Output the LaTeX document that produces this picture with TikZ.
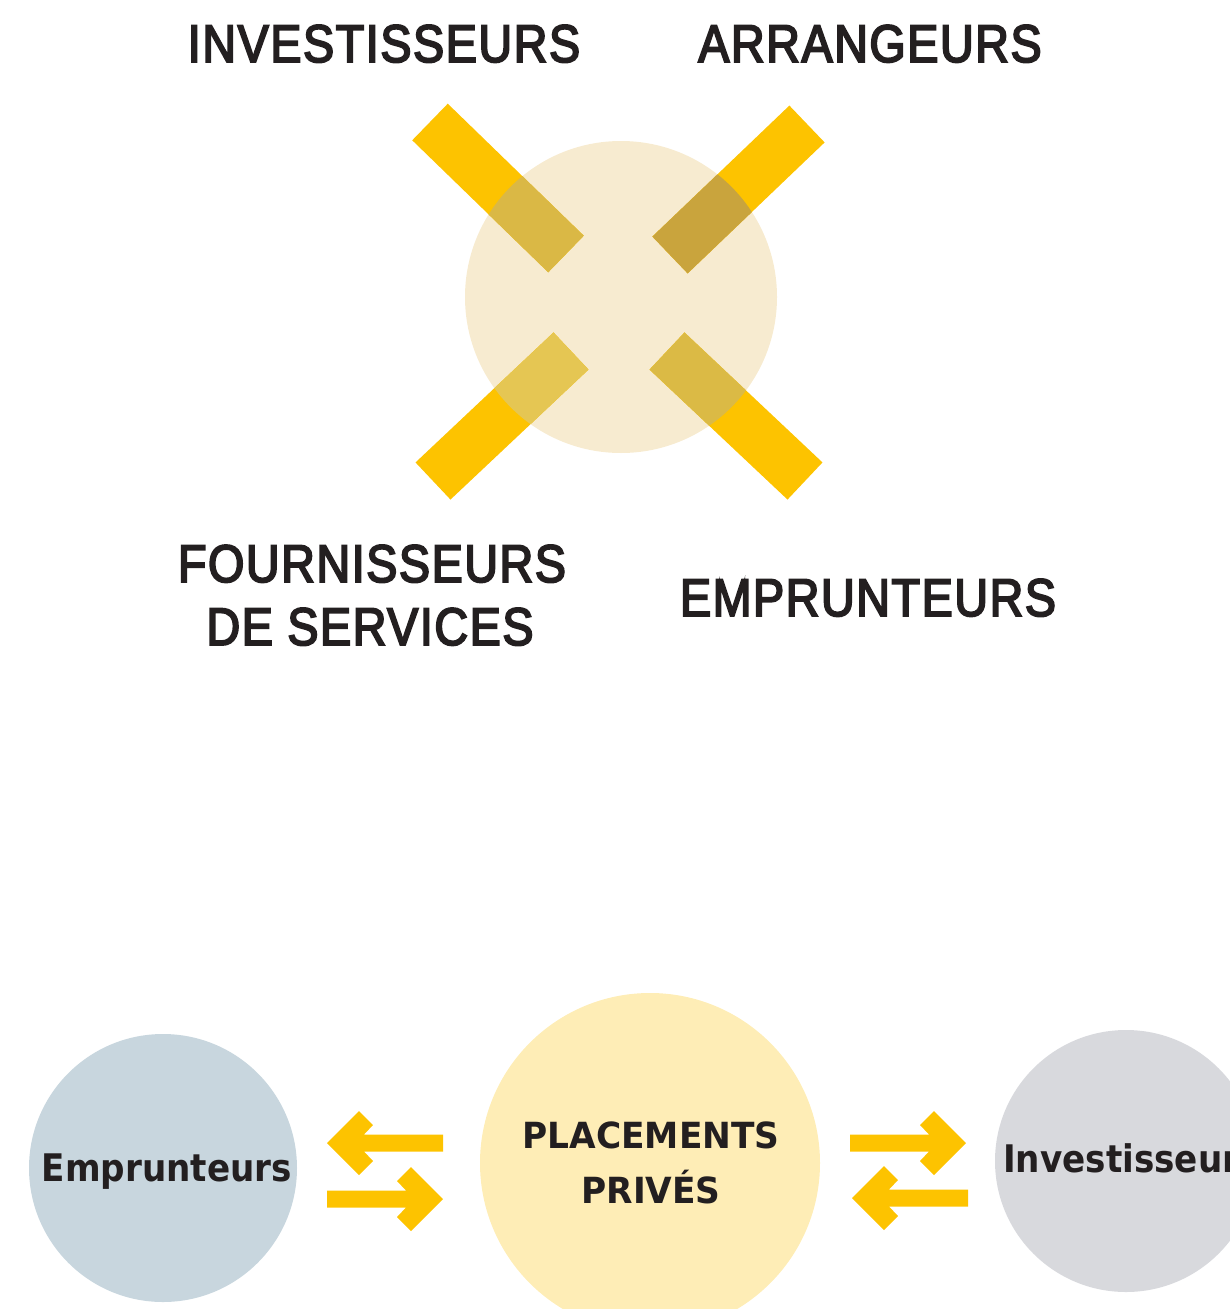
\documentclass[tikz,border=0pt]{standalone}
\usepackage{fontspec}
\newfontfamily\capsfont[FakeStretch=0.88, FakeBold=3.5, LetterSpace=3]{Liberation Sans}
\newfontfamily\bubblefont[FakeStretch=0.9]{DejaVu Sans}
\newfontfamily\centerfont[FakeStretch=0.955]{DejaVu Sans}
\definecolor{baryellow}{HTML}{FDC300}
\definecolor{hubfill}{HTML}{F7EBD0}
\definecolor{ovTL}{HTML}{DAB845}
\definecolor{ovTR}{HTML}{C9A43D}
\definecolor{ovBL}{HTML}{E5C653}
\definecolor{ovBR}{HTML}{DBBA45}
\definecolor{empfill}{HTML}{C8D6DE}
\definecolor{ppfill}{HTML}{FEEDB6}
\definecolor{invfill}{HTML}{D8D9DD}
\definecolor{ink}{HTML}{231F20}
\tikzset{
  bigcaps/.style={font=\capsfont\fontsize{53}{60}\selectfont, text=ink, anchor=base, inner sep=0pt},
  bubbletext/.style={font=\bubblefont\bfseries\fontsize{38}{44}\selectfont, text=ink, anchor=base, inner sep=0pt},
  centertext/.style={font=\centerfont\bfseries\fontsize{36}{44}\selectfont, text=ink, anchor=base, inner sep=0pt},
  bubble/.style={circle, inner sep=0pt, draw=none},
  barline/.style={line width=51pt, line cap=butt},
  fatarrow/.pic={\fill[baryellow] (0,0) -- (-32,32) -- (-46,18) -- (-37,8.5) -- (-116,8.5) -- (-116,-8.5) -- (-37,-8.5) -- (-46,-18) -- (-32,-32) -- cycle;}
}
\begin{document}
\begin{tikzpicture}[x=1pt,y=-1pt]
\useasboundingbox (0,0) rectangle (1230,1309);
\clip (0,0) rectangle (1230,1309);

% ---- top hub ----
\node[bubble, fill=hubfill, minimum size=312pt] (hub) at (621,297) {};
\coordinate (tlA) at (430,122); \coordinate (tlB) at (566,254);
\coordinate (trA) at (807,124); \coordinate (trB) at (670,255);
\coordinate (blA) at (433,481); \coordinate (blB) at (571,351);
\coordinate (brA) at (805,481); \coordinate (brB) at (667,351);
\draw[barline, baryellow] (tlA) -- (tlB);
\draw[barline, baryellow] (trA) -- (trB);
\draw[barline, baryellow] (blA) -- (blB);
\draw[barline, baryellow] (brA) -- (brB);
\begin{scope}
  \clip (621,297) circle (156);
  \draw[barline, ovTL] (tlA) -- (tlB);
  \draw[barline, ovTR] (trA) -- (trB);
  \draw[barline, ovBL] (blA) -- (blB);
  \draw[barline, ovBR] (brA) -- (brB);
\end{scope}

\node[bigcaps] (inv) at (384,62) {INVESTISSEURS};
\node[bigcaps] (arr) at (870,62) {ARRANGEURS};
\node[bigcaps] (four1) at (372,582) {FOURNISSEURS};
\node[bigcaps] (four2) at (370,645) {DE SERVICES};
\node[bigcaps] (empr) at (868,616) {EMPRUNTEURS};

% ---- bottom flow ----
\node[bubble, fill=empfill, minimum size=268pt] (empc) at (163,1168) {};
\node[bubble, fill=ppfill, minimum size=340pt] (ppc) at (650,1163) {};
\node[bubble, fill=invfill, minimum size=262pt] (invc) at (1126,1161) {};

\node[bubbletext] (emptxt) at (167,1181) {Emprunteurs};
\node[centertext] (pp1) at (651,1148) {PLACEMENTS};
\node[centertext] (pp2) at (651,1203) {PRIVÉS};
\node[bubbletext, anchor=base west] (invtxt) at (1003,1172) {Investisseurs};

\coordinate (lu) at (327,1143);
\coordinate (ll) at (443,1199);
\coordinate (ru) at (966,1143);
\coordinate (rl) at (852,1198);
\pic[xscale=-1] at (lu) {fatarrow};
\pic at (ll) {fatarrow};
\pic at (ru) {fatarrow};
\pic[xscale=-1] at (rl) {fatarrow};
\end{tikzpicture}
\end{document}
